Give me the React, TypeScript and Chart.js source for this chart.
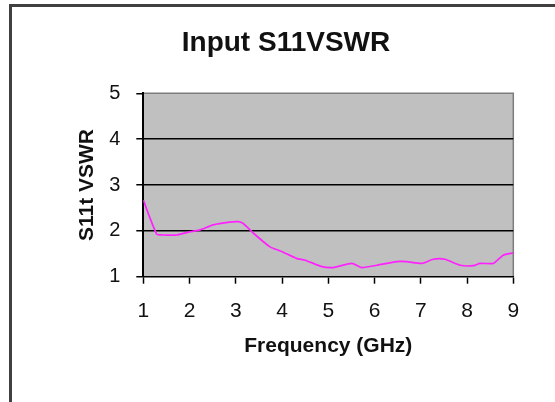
import React, { useEffect, useRef } from "react";
import { Chart, registerables } from "chart.js";

Chart.register(...registerables);

const chartTitle = "Input S11VSWR";
const xAxisTitle = "Frequency (GHz)";
const yAxisTitle = "S11t VSWR";

const freqGHz = [1, 1.29, 1.43, 1.72, 2.01, 2.23, 2.51, 2.87, 3.05, 3.16, 3.38, 3.74, 3.99, 4.31, 4.5, 4.86, 5.11, 5.51, 5.72, 6.05, 6.48, 6.69, 7.02, 7.27, 7.52, 7.85, 8.14, 8.28, 8.57, 8.78, 9];
const vswr = [2.67, 1.93, 1.91, 1.91, 1.98, 2.02, 2.13, 2.19, 2.2, 2.16, 1.95, 1.65, 1.55, 1.4, 1.36, 1.22, 1.2, 1.29, 1.2, 1.25, 1.33, 1.33, 1.29, 1.38, 1.38, 1.25, 1.24, 1.29, 1.29, 1.47, 1.52];

const xMin = 1;
const xMax = 9;
const yMin = 1;
const yMax = 5;

const FONT = "'Liberation Sans', Arial, sans-serif";

const plotBg = {
  id: "plotBg",
  beforeDraw(chart: any) {
    const { ctx, chartArea } = chart;
    const { left, top, right, bottom } = chartArea;
    ctx.save();
    ctx.fillStyle = "#c0c0c0";
    ctx.fillRect(left, top, right - left, bottom - top);
    ctx.strokeStyle = "#7d7d7d";
    ctx.lineWidth = 1.5;
    ctx.beginPath();
    ctx.moveTo(left, top);
    ctx.lineTo(right, top);
    ctx.lineTo(right, bottom);
    ctx.stroke();
    ctx.restore();
  },
};

export default function App() {
  const ref = useRef<HTMLCanvasElement | null>(null);

  useEffect(() => {
    if (!ref.current) return;
    const chart = new Chart(ref.current, {
      type: "line",
      data: {
        datasets: [
          {
            data: freqGHz.map((f, i) => ({ x: f, y: vswr[i] })),
            borderColor: "#ff22ff",
            borderWidth: 1.7,
            pointRadius: 0,
            tension: 0.2,
            fill: false,
          },
        ],
      },
      options: {
        responsive: false,
        animation: false,
        layout: { padding: { left: 58.7, right: 41.7, top: 0, bottom: 0 } },
        plugins: {
          legend: { display: false },
          tooltip: { enabled: false },
          title: {
            display: true,
            text: chartTitle,
            color: "#111",
            font: { family: FONT, size: 28, weight: "bold" },
            padding: { top: 26.2, bottom: 33.5 },
          },
        },
        scales: {
          x: {
            type: "linear",
            min: xMin,
            max: xMax,
            afterFit: (s: any) => {
              s.height = 402 - 276.7;
            },
            ticks: {
              stepSize: 1,
              color: "#111",
              padding: 14.5,
              font: { family: FONT, size: 21 },
            },
            grid: {
              drawOnChartArea: false,
              drawTicks: true,
              tickLength: 7,
              tickColor: "#000",
              tickWidth: 1.5,
            },
            border: { display: true, color: "#000", width: 1.6 },
            title: {
              display: true,
              text: xAxisTitle,
              color: "#111",
              font: { family: FONT, size: 21, weight: "bold" },
              padding: { top: 0, bottom: 42.9 },
            },
          },
          y: {
            type: "linear",
            min: yMin,
            max: yMax,
            afterFit: (s: any) => {
              s.width = 143.3 - 58.7;
            },
            ticks: {
              stepSize: 1,
              color: "#111",
              padding: 16,
              font: { family: FONT, size: 20 },
            },
            grid: {
              color: (c: any) =>
                c.tick && c.tick.value > yMin && c.tick.value < yMax ? "#000" : "rgba(0,0,0,0)",
              lineWidth: 1.5,
              tickLength: 7,
              tickColor: "#000",
              tickWidth: 1.5,
            },
            border: { display: true, color: "#000", width: 2 },
            title: {
              display: true,
              text: yAxisTitle,
              color: "#111",
              font: { family: FONT, size: 21, weight: "bold" },
              padding: { top: 15.7, bottom: 0 },
            },
          },
        },
      },
      plugins: [plotBg],
    });
    return () => chart.destroy();
  }, []);

  return (
    <div
      style={{
        position: "fixed",
        left: 0,
        top: 0,
        width: 555,
        height: 402,
        background: "#fff",
        overflow: "hidden",
      }}
    >
      <div
        style={{
          position: "absolute",
          left: 9,
          top: 4,
          width: 620,
          height: 500,
          borderLeft: "3px solid #404040",
          borderTop: "3px solid #404040",
        }}
      />
      <canvas
        ref={ref}
        width={555}
        height={402}
        style={{ position: "absolute", left: 0, top: 0, width: 555, height: 402 }}
      />
    </div>
  );
}
